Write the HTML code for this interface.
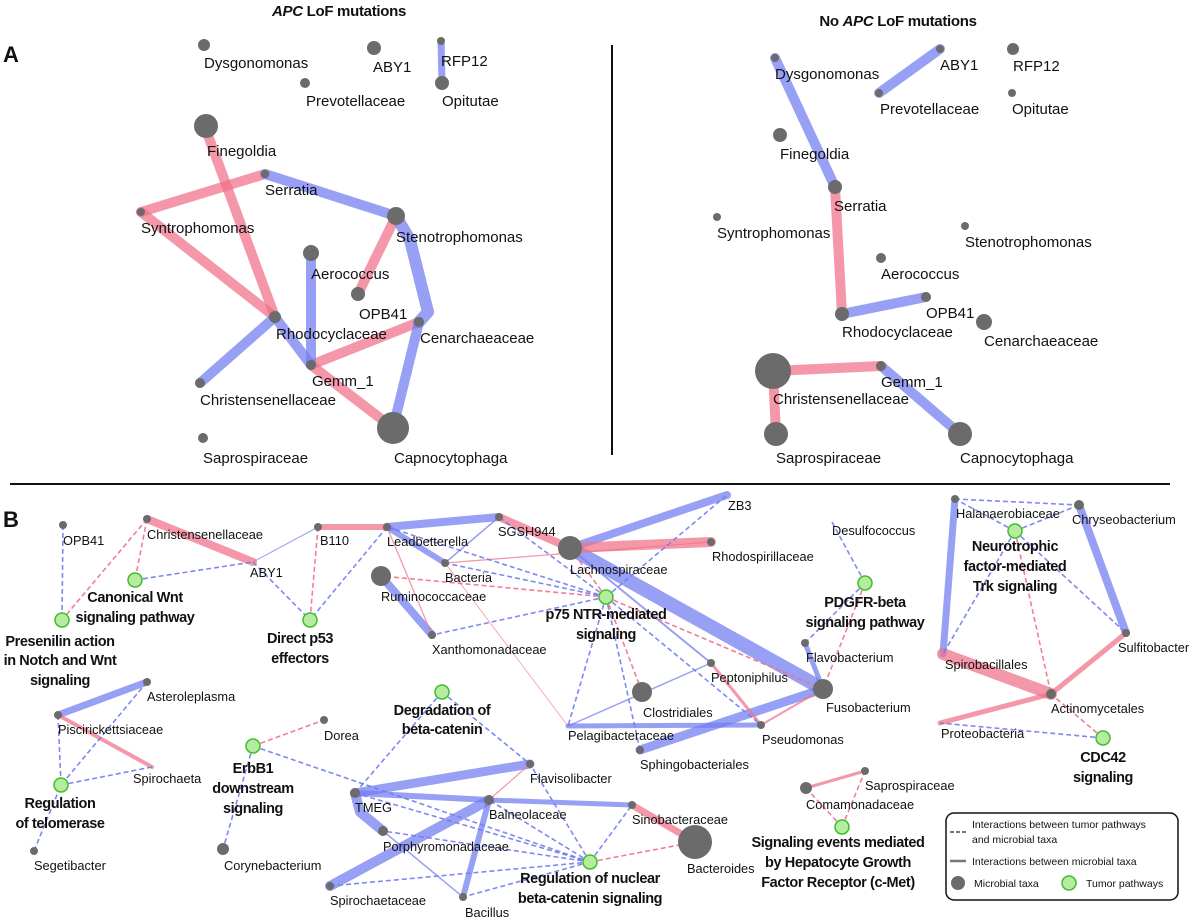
<!DOCTYPE html>
<html><head><meta charset="utf-8"><style>
html,body{margin:0;padding:0;background:#fff;}
svg{display:block;}
text{font-family:"Liberation Sans",sans-serif;fill:#111;}
.a{font-size:15px;}
.b{font-size:12.8px;}
.p{font-size:14.5px;font-weight:bold;font-family:"Liberation Sans Narrow","Liberation Sans",sans-serif;text-anchor:middle;letter-spacing:-0.4px;}
.n{fill:#6b6b6b;}
.g{fill:#b6ec9f;stroke:#3fbe2c;stroke-width:1.5;}
.bl{stroke:#6f7cf0;stroke-opacity:.72;stroke-linecap:round;fill:none;}
.rd{stroke:#f07088;stroke-opacity:.72;stroke-linecap:round;fill:none;}
.bd{stroke:#6f7cf0;stroke-width:1.6;stroke-dasharray:5,3;fill:none;stroke-opacity:.9;}
.rdd{stroke:#f07088;stroke-width:1.6;stroke-dasharray:5,3;fill:none;stroke-opacity:.9;}
</style></head><body>
<svg width="1200" height="920" viewBox="0 0 1200 920" xmlns="http://www.w3.org/2000/svg">
<text x="339" y="16" text-anchor="middle" style="font-size:15px;font-weight:bold;letter-spacing:-0.3px"><tspan font-style="italic">APC</tspan> LoF mutations</text>
<text x="898" y="26" text-anchor="middle" style="font-size:15px;font-weight:bold;letter-spacing:-0.3px">No <tspan font-style="italic">APC</tspan> LoF mutations</text>
<text x="3" y="62" style="font-size:22px;font-weight:bold">A</text>
<text x="3" y="527" style="font-size:22px;font-weight:bold">B</text>
<line x1="612" y1="45" x2="612" y2="455" stroke="#111" stroke-width="2"/>
<line x1="10" y1="484" x2="1170" y2="484" stroke="#111" stroke-width="2"/>

<g class="rd" stroke-width="10">
<line x1="206" y1="130" x2="275" y2="317"/>
<line x1="265" y1="174" x2="141" y2="212"/>
<line x1="141" y1="212" x2="275" y2="317"/>
<line x1="396" y1="216" x2="358" y2="294"/>
<line x1="311" y1="365" x2="419" y2="322"/>
<line x1="311" y1="365" x2="393" y2="428"/>
</g>
<g class="bl" stroke-width="10">
<line x1="441" y1="41" x2="442" y2="83" stroke-width="7"/>
<line x1="265" y1="174" x2="396" y2="216"/>
<polyline points="396,216 410,240 428,312 419,322" stroke-width="12" stroke-linejoin="round"/>
<line x1="419" y1="322" x2="393" y2="428"/>
<line x1="311" y1="253" x2="311" y2="365"/>
<line x1="275" y1="317" x2="200" y2="383"/>
<line x1="275" y1="317" x2="311" y2="365"/>
</g>
<g class="n">
<circle cx="204" cy="45" r="6"/><circle cx="374" cy="48" r="7"/><circle cx="441" cy="41" r="4"/><circle cx="442" cy="83" r="7"/><circle cx="305" cy="83" r="5"/>
<circle cx="206" cy="126" r="12"/><circle cx="265" cy="174" r="4"/><circle cx="141" cy="212" r="4"/><circle cx="396" cy="216" r="9"/>
<circle cx="311" cy="253" r="8"/><circle cx="358" cy="294" r="7"/><circle cx="275" cy="317" r="6"/><circle cx="419" cy="322" r="5"/>
<circle cx="311" cy="365" r="5"/><circle cx="200" cy="383" r="5"/><circle cx="393" cy="428" r="16"/><circle cx="203" cy="438" r="5"/>
</g>
<g class="a">
<text x="204" y="68">Dysgonomonas</text><text x="373" y="72">ABY1</text><text x="441" y="66">RFP12</text>
<text x="306" y="106">Prevotellaceae</text><text x="442" y="106">Opitutae</text>
<text x="207" y="156">Finegoldia</text><text x="265" y="195">Serratia</text><text x="141" y="233">Syntrophomonas</text>
<text x="396" y="242">Stenotrophomonas</text><text x="311" y="279">Aerococcus</text><text x="359" y="319">OPB41</text>
<text x="276" y="339">Rhodocyclaceae</text><text x="420" y="343">Cenarchaeaceae</text><text x="312" y="386">Gemm_1</text>
<text x="200" y="405">Christensenellaceae</text><text x="203" y="463">Saprospiraceae</text><text x="394" y="463">Capnocytophaga</text>
</g>

<g class="bl" stroke-width="10">
<line x1="775" y1="58" x2="835" y2="187"/>
<line x1="940" y1="49" x2="879" y2="93"/>
<line x1="842" y1="314" x2="926" y2="297"/>
<line x1="881" y1="366" x2="960" y2="434"/>
</g>
<g class="rd" stroke-width="10">
<line x1="835" y1="187" x2="842" y2="314"/>
<line x1="773" y1="371" x2="881" y2="366"/>
<line x1="773" y1="371" x2="776" y2="434"/>
</g>
<g class="n">
<circle cx="775" cy="58" r="4"/><circle cx="940" cy="49" r="4"/><circle cx="879" cy="93" r="4"/><circle cx="1013" cy="49" r="6"/><circle cx="1012" cy="93" r="4"/>
<circle cx="780" cy="135" r="7"/><circle cx="835" cy="187" r="7"/><circle cx="717" cy="217" r="4"/><circle cx="965" cy="226" r="4"/>
<circle cx="881" cy="258" r="5"/><circle cx="926" cy="297" r="5"/><circle cx="842" cy="314" r="7"/><circle cx="984" cy="322" r="8"/>
<circle cx="773" cy="371" r="18"/><circle cx="881" cy="366" r="5"/><circle cx="776" cy="434" r="12"/><circle cx="960" cy="434" r="12"/>
</g>
<g class="a">
<text x="775" y="79">Dysgonomonas</text><text x="940" y="70">ABY1</text><text x="1013" y="71">RFP12</text>
<text x="880" y="114">Prevotellaceae</text><text x="1012" y="114">Opitutae</text><text x="780" y="159">Finegoldia</text>
<text x="834" y="211">Serratia</text><text x="717" y="238">Syntrophomonas</text><text x="965" y="247">Stenotrophomonas</text>
<text x="881" y="279">Aerococcus</text><text x="926" y="318">OPB41</text><text x="842" y="337">Rhodocyclaceae</text>
<text x="984" y="346">Cenarchaeaceae</text><text x="881" y="387">Gemm_1</text><text x="773" y="404">Christensenellaceae</text>
<text x="776" y="463">Saprospiraceae</text><text x="960" y="463">Capnocytophaga</text>
</g>

<g class="bl">
<line x1="387" y1="527" x2="499" y2="517" stroke-width="8"/>
<line x1="387" y1="527" x2="445" y2="563" stroke-width="6"/>
<line x1="499" y1="517" x2="445" y2="563" stroke-width="1.5"/>
<line x1="570" y1="548" x2="727" y2="495" stroke-width="8"/>
<line x1="570" y1="548" x2="823" y2="689" stroke-width="14"/>
<line x1="570" y1="548" x2="711" y2="663" stroke-width="2"/>
<line x1="381" y1="576" x2="432" y2="635" stroke-width="8"/>
<line x1="823" y1="689" x2="640" y2="750" stroke-width="9"/>
<line x1="823" y1="689" x2="805" y2="643" stroke-width="5"/>
<line x1="568" y1="726" x2="761" y2="725" stroke-width="5"/>
<line x1="568" y1="726" x2="711" y2="663" stroke-width="1.5"/>
<line x1="253" y1="562" x2="318" y2="527" stroke-width="1"/>
<line x1="147" y1="682" x2="58" y2="715" stroke-width="7"/>
<line x1="355" y1="793" x2="530" y2="764" stroke-width="9"/>
<line x1="355" y1="793" x2="489" y2="800" stroke-width="6"/>
<polyline points="355,793 360,812 383,831" stroke-width="10" stroke-linejoin="round"/>
<line x1="489" y1="800" x2="632" y2="805" stroke-width="5"/>
<line x1="489" y1="800" x2="330" y2="886" stroke-width="10"/>
<line x1="489" y1="800" x2="463" y2="897" stroke-width="6"/>
<line x1="383" y1="831" x2="463" y2="897" stroke-width="1.5"/>
<line x1="955" y1="499" x2="943" y2="654" stroke-width="7"/>
<line x1="1079" y1="505" x2="1126" y2="633" stroke-width="8"/>
</g>
<g class="rd">
<line x1="318" y1="527" x2="387" y2="527" stroke-width="6"/>
<line x1="499" y1="517" x2="570" y2="548" stroke-width="8"/>
<line x1="570" y1="548" x2="711" y2="542" stroke-width="10"/>
<line x1="445" y1="563" x2="711" y2="542" stroke-width="1.3"/>
<line x1="387" y1="527" x2="432" y2="635" stroke-width="1.3"/>
<line x1="445" y1="563" x2="568" y2="726" stroke-width="0.8"/>
<line x1="711" y1="663" x2="761" y2="725" stroke-width="3"/>
<line x1="761" y1="725" x2="823" y2="689" stroke-width="2"/>
<line x1="147" y1="519" x2="253" y2="562" stroke-width="8"/>
<line x1="58" y1="715" x2="152" y2="767" stroke-width="4"/>
<line x1="489" y1="800" x2="530" y2="764" stroke-width="1.3"/>
<line x1="632" y1="805" x2="695" y2="842" stroke-width="7"/>
<line x1="943" y1="654" x2="1051" y2="694" stroke-width="12"/>
<line x1="1051" y1="694" x2="1126" y2="633" stroke-width="5"/>
<line x1="1051" y1="694" x2="940" y2="723" stroke-width="5"/>
<line x1="806" y1="788" x2="865" y2="771" stroke-width="3"/>
</g>
<g class="bd">
<line x1="63" y1="525" x2="62" y2="620"/>
<line x1="135" y1="580" x2="253" y2="562"/>
<line x1="253" y1="562" x2="310" y2="620"/>
<line x1="387" y1="527" x2="310" y2="620"/>
<line x1="606" y1="597" x2="387" y2="527"/>
<line x1="606" y1="597" x2="445" y2="563"/>
<line x1="606" y1="597" x2="499" y2="517"/>
<line x1="606" y1="597" x2="432" y2="635"/>
<line x1="606" y1="597" x2="727" y2="495"/>
<line x1="606" y1="597" x2="568" y2="726"/>
<line x1="606" y1="597" x2="640" y2="750"/>
<line x1="606" y1="597" x2="761" y2="725"/>
<line x1="147" y1="682" x2="61" y2="785"/>
<line x1="58" y1="715" x2="61" y2="785"/>
<line x1="152" y1="767" x2="61" y2="785"/>
<line x1="34" y1="851" x2="61" y2="785"/>
<line x1="253" y1="746" x2="223" y2="849"/>
<line x1="253" y1="746" x2="590" y2="862"/>
<line x1="442" y1="692" x2="355" y2="793"/>
<line x1="442" y1="692" x2="530" y2="764"/>
<line x1="590" y1="862" x2="355" y2="793"/>
<line x1="590" y1="862" x2="383" y2="831"/>
<line x1="590" y1="862" x2="330" y2="886"/>
<line x1="590" y1="862" x2="463" y2="897"/>
<line x1="590" y1="862" x2="530" y2="764"/>
<line x1="590" y1="862" x2="632" y2="805"/>
<line x1="590" y1="862" x2="489" y2="800"/>
<line x1="832" y1="522" x2="865" y2="583"/>
<line x1="865" y1="583" x2="805" y2="643"/>
<line x1="1015" y1="531" x2="955" y2="499"/>
<line x1="1015" y1="531" x2="1079" y2="505"/>
<line x1="1015" y1="531" x2="943" y2="654"/>
<line x1="1015" y1="531" x2="1126" y2="633"/>
<line x1="955" y1="499" x2="1079" y2="505"/>
<line x1="1103" y1="738" x2="940" y2="723"/>
</g>
<g class="rdd">
<line x1="147" y1="519" x2="62" y2="620"/>
<line x1="147" y1="519" x2="135" y2="580"/>
<line x1="318" y1="527" x2="310" y2="620"/>
<line x1="606" y1="597" x2="381" y2="576"/>
<line x1="606" y1="597" x2="570" y2="548"/>
<line x1="606" y1="597" x2="642" y2="692"/>
<line x1="606" y1="597" x2="823" y2="689"/>
<line x1="865" y1="583" x2="823" y2="689"/>
<line x1="253" y1="746" x2="324" y2="720"/>
<line x1="590" y1="862" x2="695" y2="842"/>
<line x1="1015" y1="531" x2="1051" y2="694"/>
<line x1="1103" y1="738" x2="1051" y2="694"/>
<line x1="842" y1="827" x2="806" y2="788"/>
<line x1="842" y1="827" x2="865" y2="771"/>
</g>
<g class="n">
<circle cx="63" cy="525" r="4"/><circle cx="147" cy="519" r="4"/><circle cx="318" cy="527" r="4"/><circle cx="387" cy="527" r="4"/>
<circle cx="499" cy="517" r="4"/><circle cx="570" cy="548" r="12"/><circle cx="711" cy="542" r="4"/><circle cx="445" cy="563" r="4"/>
<circle cx="381" cy="576" r="10"/><circle cx="432" cy="635" r="4"/><circle cx="324" cy="720" r="4"/><circle cx="711" cy="663" r="4"/>
<circle cx="642" cy="692" r="10"/><circle cx="823" cy="689" r="10"/><circle cx="761" cy="725" r="4"/><circle cx="640" cy="750" r="4"/>
<circle cx="530" cy="764" r="4"/><circle cx="147" cy="682" r="4"/><circle cx="58" cy="715" r="4"/><circle cx="34" cy="851" r="4"/>
<circle cx="223" cy="849" r="6"/><circle cx="355" cy="793" r="5"/><circle cx="489" cy="800" r="5"/><circle cx="632" cy="805" r="4"/>
<circle cx="695" cy="842" r="17"/><circle cx="383" cy="831" r="5"/><circle cx="330" cy="886" r="4"/><circle cx="463" cy="897" r="4"/>
<circle cx="955" cy="499" r="4"/><circle cx="1079" cy="505" r="5"/><circle cx="805" cy="643" r="4"/><circle cx="1126" cy="633" r="4"/>
<circle cx="1051" cy="694" r="5"/><circle cx="865" cy="771" r="4"/><circle cx="806" cy="788" r="6"/>
</g>
<g class="g">
<circle cx="135" cy="580" r="7"/><circle cx="62" cy="620" r="7"/><circle cx="310" cy="620" r="7"/><circle cx="606" cy="597" r="7"/>
<circle cx="442" cy="692" r="7"/><circle cx="61" cy="785" r="7"/><circle cx="253" cy="746" r="7"/><circle cx="590" cy="862" r="7"/>
<circle cx="1015" cy="531" r="7"/><circle cx="865" cy="583" r="7"/><circle cx="1103" cy="738" r="7"/><circle cx="842" cy="827" r="7"/>
</g>
<g class="b">
<text x="63" y="545">OPB41</text><text x="147" y="539">Christensenellaceae</text><text x="250" y="577">ABY1</text>
<text x="320" y="545">B110</text><text x="387" y="546">Leadbetterella</text><text x="498" y="536">SGSH944</text>
<text x="728" y="510">ZB3</text><text x="570" y="574">Lachnospiraceae</text><text x="712" y="561">Rhodospirillaceae</text>
<text x="445" y="582">Bacteria</text><text x="381" y="601">Ruminococcaceae</text><text x="432" y="654">Xanthomonadaceae</text>
<text x="324" y="740">Dorea</text><text x="711" y="682">Peptoniphilus</text><text x="643" y="717">Clostridiales</text>
<text x="826" y="712">Fusobacterium</text><text x="568" y="740">Pelagibacteraceae</text><text x="762" y="744">Pseudomonas</text>
<text x="640" y="769">Sphingobacteriales</text><text x="530" y="783">Flavisolibacter</text><text x="832" y="535">Desulfococcus</text>
<text x="147" y="701">Asteroleplasma</text><text x="58" y="734">Piscirickettsiaceae</text><text x="133" y="783">Spirochaeta</text>
<text x="34" y="870">Segetibacter</text><text x="224" y="870">Corynebacterium</text>
<text x="355" y="812">TMEG</text><text x="489" y="819">Balneolaceae</text><text x="632" y="824">Sinobacteraceae</text>
<text x="687" y="873">Bacteroides</text><text x="383" y="851">Porphyromonadaceae</text><text x="330" y="905">Spirochaetaceae</text>
<text x="465" y="917">Bacillus</text>
<text x="956" y="518">Halanaerobiaceae</text><text x="1072" y="524">Chryseobacterium</text><text x="806" y="662">Flavobacterium</text>
<text x="1118" y="652">Sulfitobacter</text><text x="945" y="669">Spirobacillales</text><text x="1051" y="713">Actinomycetales</text>
<text x="941" y="738">Proteobacteria</text><text x="865" y="790">Saprospiraceae</text><text x="806" y="809">Comamonadaceae</text>
</g>
<g class="p">
<text x="135" y="602">Canonical Wnt</text><text x="135" y="622">signaling pathway</text>
<text x="60" y="646">Presenilin action</text><text x="60" y="665">in Notch and Wnt</text><text x="60" y="685">signaling</text>
<text x="300" y="643">Direct p53</text><text x="300" y="663">effectors</text>
<text x="606" y="619">p75 NTR-mediated</text><text x="606" y="639">signaling</text>
<text x="442" y="715">Degradation of</text><text x="442" y="734">beta-catenin</text>
<text x="60" y="808">Regulation</text><text x="60" y="828">of telomerase</text>
<text x="253" y="773">ErbB1</text><text x="253" y="793">downstream</text><text x="253" y="813">signaling</text>
<text x="590" y="883">Regulation of nuclear</text><text x="590" y="903">beta-catenin signaling</text>
<text x="1015" y="551">Neurotrophic</text><text x="1015" y="571">factor-mediated</text><text x="1015" y="591">Trk signaling</text>
<text x="865" y="607">PDGFR-beta</text><text x="865" y="627">signaling pathway</text>
<text x="1103" y="762">CDC42</text><text x="1103" y="782">signaling</text>
<text x="838" y="847">Signaling events mediated</text><text x="838" y="867">by Hepatocyte Growth</text><text x="838" y="887">Factor Receptor (c-Met)</text>
</g>
<rect x="946" y="813" width="232" height="87" rx="8" fill="none" stroke="#111" stroke-width="1.5"/>
<line x1="950" y1="832" x2="966" y2="832" stroke="#777" stroke-width="2" stroke-dasharray="4,2"/>
<line x1="950" y1="861" x2="966" y2="861" stroke="#777" stroke-width="2.5"/>
<g style="font-size:10.5px">
<text x="972" y="828">Interactions between tumor pathways</text>
<text x="972" y="843">and microbial taxa</text>
<text x="972" y="865">Interactions between microbial taxa</text>
<text x="974" y="887">Microbial taxa</text>
<text x="1086" y="887">Tumor pathways</text>
</g>
<circle cx="958" cy="883" r="7" class="n"/>
<circle cx="1069" cy="883" r="7" class="g"/>
</svg>
</body></html>
